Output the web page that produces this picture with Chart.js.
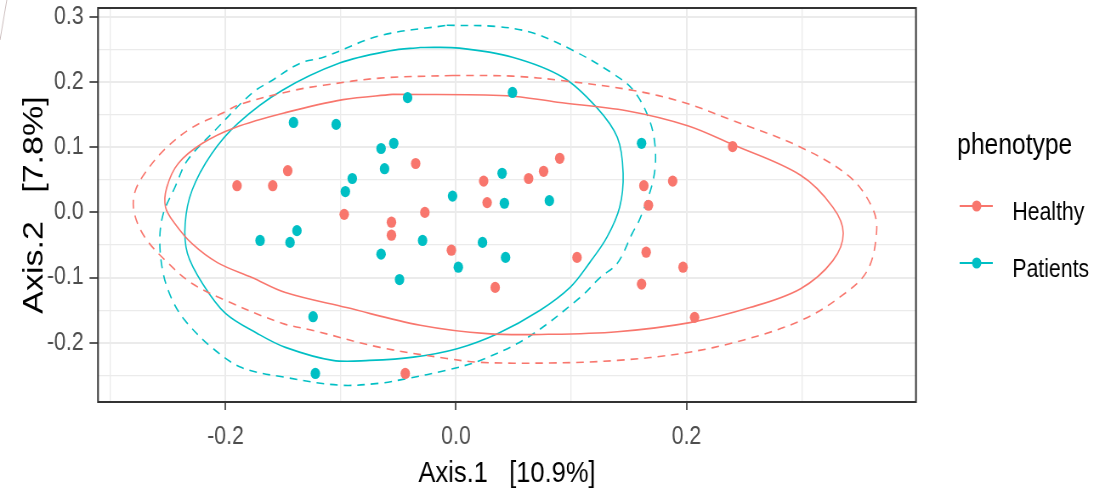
<!DOCTYPE html>
<html>
<head>
<meta charset="utf-8">
<script src="https://cdn.jsdelivr.net/npm/chart.js"></script>
<style>
  html, body { margin: 0; padding: 0; background: #fff; overflow: hidden; }
  /* the reference is squeezed horizontally, so draw wide and scale down */
  #wrap { position: absolute; left: 0; top: 0; width: 1291px; height: 497px; transform: scaleX(0.85); transform-origin: 0 0; }
</style>
</head>
<body>
<div id="wrap"><canvas id="pcoa"></canvas></div>
<script>
// PCoA ordination, Axis.1 vs Axis.2, coloured by phenotype

const healthyX = [-0.190, -0.159, -0.146, -0.097, -0.056, -0.056, -0.035, -0.027, -0.004, 0.024, 0.027, 0.034, 0.063,
  0.076, 0.090, 0.105, -0.044, 0.163, 0.167, 0.188, 0.240, 0.165, 0.161, 0.197, 0.207];
const healthyY = [0.041, 0.041, 0.064, -0.003, -0.015, -0.035, 0.075, 0.000, -0.058, 0.048, 0.015, -0.115, 0.052,
  0.063, 0.083, -0.069, -0.247, 0.041, 0.011, 0.048, 0.101, -0.061, -0.110, -0.084, -0.161];

const patientsX = [-0.141, -0.104, -0.042, 0.049, -0.065, -0.054, -0.062, -0.090, -0.096, -0.003, 0.040, 0.042, 0.081,
  -0.138, -0.144, -0.170, -0.029, 0.023, -0.065, 0.002, 0.043, -0.049, -0.124, -0.122, 0.161];
const patientsY = [0.138, 0.135, 0.176, 0.184, 0.098, 0.106, 0.067, 0.052, 0.032, 0.025, 0.060, 0.014, 0.018,
  -0.028, -0.046, -0.043, -0.043, -0.046, -0.064, -0.084, -0.069, -0.103, -0.160, -0.247, 0.106];

// ellipse outlines (solid and dashed for each group)
const healthySolid = [[-0.055, 0.181], [0.044, 0.179], [0.088, 0.169], [0.148, 0.156], [0.201, 0.133], [0.240, 0.104],
  [0.299, 0.057], [0.327, 0.008], [0.336, -0.032], [0.327, -0.074], [0.299, -0.117], [0.255, -0.146], [0.203, -0.169],
  [0.140, -0.183], [0.080, -0.187], [0.027, -0.186], [-0.031, -0.173], [-0.095, -0.146], [-0.148, -0.123],
  [-0.177, -0.100], [-0.207, -0.077], [-0.229, -0.048], [-0.244, -0.017], [-0.252, 0.008], [-0.251, 0.038],
  [-0.241, 0.075], [-0.220, 0.106], [-0.192, 0.130], [-0.148, 0.153], [-0.098, 0.173], [-0.055, 0.181]];
const healthyDashed = [[-0.003, 0.210], [0.049, 0.209], [0.093, 0.202], [0.154, 0.187], [0.197, 0.169], [0.240, 0.141],
  [0.299, 0.100], [0.342, 0.054], [0.361, 0.008], [0.365, -0.028], [0.357, -0.089], [0.333, -0.130], [0.299, -0.166],
  [0.249, -0.196], [0.197, -0.216], [0.140, -0.227], [0.080, -0.231], [0.021, -0.230], [-0.008, -0.224],
  [-0.066, -0.207], [-0.124, -0.181], [-0.151, -0.170], [-0.200, -0.135], [-0.229, -0.109], [-0.252, -0.074],
  [-0.270, -0.038], [-0.279, -0.002], [-0.279, 0.029], [-0.270, 0.060], [-0.252, 0.098], [-0.229, 0.130],
  [-0.203, 0.152], [-0.187, 0.166], [-0.141, 0.187], [-0.115, 0.195], [-0.066, 0.206], [-0.003, 0.210]];
const patientsSolid = [[-0.031, 0.253], [0.003, 0.252], [0.049, 0.238], [0.093, 0.207], [0.122, 0.161], [0.140, 0.115],
  [0.145, 0.060], [0.142, 0.008], [0.131, -0.038], [0.116, -0.077], [0.099, -0.115], [0.073, -0.150], [0.036, -0.186],
  [0.001, -0.209], [-0.037, -0.222], [-0.075, -0.227], [-0.107, -0.227], [-0.148, -0.207], [-0.172, -0.186],
  [-0.200, -0.155], [-0.220, -0.109], [-0.233, -0.063], [-0.235, -0.017], [-0.229, 0.034], [-0.212, 0.090],
  [-0.189, 0.137], [-0.151, 0.187], [-0.101, 0.229], [-0.057, 0.248], [-0.031, 0.253]];
const patientsDashed = [[-0.008, 0.287], [0.036, 0.285], [0.067, 0.275], [0.102, 0.248], [0.136, 0.213], [0.154, 0.187],
  [0.168, 0.141], [0.173, 0.095], [0.171, 0.049], [0.160, -0.008], [0.153, -0.032], [0.140, -0.078], [0.125, -0.100],
  [0.108, -0.130], [0.062, -0.192], [0.021, -0.227], [-0.008, -0.242], [-0.043, -0.255], [-0.066, -0.262],
  [-0.101, -0.265], [-0.148, -0.253], [-0.186, -0.238], [-0.212, -0.207], [-0.235, -0.166], [-0.246, -0.135],
  [-0.254, -0.094], [-0.257, -0.043], [-0.254, -0.002], [-0.244, 0.038], [-0.233, 0.080], [-0.209, 0.126],
  [-0.177, 0.183], [-0.160, 0.202], [-0.135, 0.229], [-0.115, 0.238], [-0.066, 0.271], [-0.008, 0.287]];

const xMajorTicks = [-0.2, 0.0, 0.2];
const xMinorTicks = [-0.3, -0.1, 0.1, 0.3];
const yMajorTicks = [-0.2, -0.1, 0.0, 0.1, 0.2, 0.3];
const yMinorTicks = [-0.25, -0.15, -0.05, 0.05, 0.15, 0.25];

const groups = ["Healthy", "Patients"];
const red = "#F8766D";
const teal = "#00BFC4";
const FONT = "'Liberation Sans', Arial, sans-serif";

const toXY = (xs, ys) => xs.map((x, i) => ({ x: x, y: ys[i] }));
const ring = (pts) => pts.map(p => ({ x: p[0], y: p[1] }));
const isMajor = (v, list) => list.some(m => Math.abs(m - v) < 1e-9);

function outline(label, pts, color, dashed) {
  return {
    label: label,
    data: ring(pts),
    showLine: true,
    borderColor: color,
    borderWidth: 1.6,
    borderDash: dashed ? [9, 7] : [],
    pointRadius: 0,
    pointHoverRadius: 0,
    tension: 0.35,
    fill: false,
    order: 2
  };
}

function setTicks(major, minor) {
  return function (scale) {
    scale.ticks = major.concat(minor).sort((a, b) => a - b).map(v => ({ value: v }));
  };
}

function fixSize(prop, size) {
  return function (scale) {
    scale[prop] = size;
    scale.paddingTop = 0;
    scale.paddingBottom = 0;
    scale.paddingLeft = 0;
    scale.paddingRight = 0;
  };
}

function gridStyle(major) {
  return {
    color: "#EBEBEB",
    lineWidth: ctx => (ctx.tick && isMajor(ctx.tick.value, major)) ? 2 : 1.3,
    tickColor: ctx => (ctx.tick && isMajor(ctx.tick.value, major)) ? "#333333" : "rgba(0,0,0,0)",
    tickWidth: 1.6
  };
}

const frame = {
  id: "frame",
  afterDraw(chart) {
    const ctx = chart.ctx;
    const a = chart.chartArea;
    ctx.save();
    // panel border
    ctx.strokeStyle = "#333333";
    ctx.lineWidth = 2;
    ctx.strokeRect(a.left, a.top, a.right - a.left, a.bottom - a.top);

    // axis titles
    ctx.fillStyle = "#000";
    ctx.font = "30px " + FONT;
    ctx.textAlign = "center";
    ctx.textBaseline = "alphabetic";
    ctx.fillText("Axis.1   [10.9%]", (a.left + a.right) / 2, 482);
    ctx.save();
    ctx.translate(50, (a.top + a.bottom) / 2);
    ctx.rotate(-Math.PI / 2);
    ctx.font = "34px " + FONT;
    ctx.fillText("Axis.2   [7.8%]", 0, 0);
    ctx.restore();

    // legend
    ctx.textAlign = "left";
    ctx.font = "29px " + FONT;
    ctx.fillText("phenotype", 1126, 154);
    const cols = [red, teal];
    const ys = [206, 263];
    ctx.font = "25px " + FONT;
    groups.forEach((g, i) => {
      ctx.strokeStyle = cols[i];
      ctx.lineWidth = 2;
      ctx.beginPath();
      ctx.moveTo(1129, ys[i]);
      ctx.lineTo(1168, ys[i]);
      ctx.stroke();
      ctx.fillStyle = cols[i];
      ctx.beginPath();
      ctx.arc(1149, ys[i], 5.5, 0, Math.PI * 2);
      ctx.fill();
      ctx.fillStyle = "#000";
      ctx.fillText(g, 1191, ys[i] + 14);
    });

    // faint slide edge in the top-left corner
    ctx.strokeStyle = "#cbbcbc";
    ctx.lineWidth = 1;
    ctx.beginPath();
    ctx.moveTo(8, 0);
    ctx.lineTo(0, 40);
    ctx.stroke();
    ctx.restore();
  }
};

const chart = new Chart(document.getElementById("pcoa").getContext("2d"), {
  type: "scatter",
  data: {
    datasets: [
      { label: groups[0], data: toXY(healthyX, healthyY), backgroundColor: red, borderWidth: 0, pointRadius: 5.6, order: 1 },
      { label: groups[1], data: toXY(patientsX, patientsY), backgroundColor: teal, borderWidth: 0, pointRadius: 5.6, order: 1 },
      outline("Healthy ellipse", healthySolid, red, false),
      outline("Healthy ellipse dashed", healthyDashed, red, true),
      outline("Patients ellipse", patientsSolid, teal, false),
      outline("Patients ellipse dashed", patientsDashed, teal, true)
    ]
  },
  options: {
    responsive: true,
    maintainAspectRatio: false,
    animation: false,
    layout: { padding: { left: 0, top: 8, right: 213.4, bottom: 0 } },
    plugins: { legend: { display: false }, tooltip: { enabled: false } },
    scales: {
      x: {
        type: "linear",
        min: -0.3106,
        max: 0.3991,
        afterBuildTicks: setTicks(xMajorTicks, xMinorTicks),
        afterFit: fixSize("height", 95),
        grid: Object.assign(gridStyle(xMajorTicks), { tickLength: 8 }),
        border: { display: false },
        ticks: {
          autoSkip: false,
          maxRotation: 0,
          padding: 12,
          color: "#4D4D4D",
          font: { family: FONT, size: 25 },
          callback: v => isMajor(v, xMajorTicks) ? v.toFixed(1) : ""
        }
      },
      y: {
        type: "linear",
        min: -0.2908,
        max: 0.3135,
        afterBuildTicks: setTicks(yMajorTicks, yMinorTicks),
        afterFit: fixSize("width", 115.3),
        grid: Object.assign(gridStyle(yMajorTicks), { tickLength: 10 }),
        border: { display: false },
        ticks: {
          autoSkip: false,
          padding: 7,
          color: "#4D4D4D",
          font: { family: FONT, size: 25 },
          callback: v => isMajor(v, yMajorTicks) ? v.toFixed(1) : ""
        }
      }
    }
  },
  plugins: [frame]
});
</script>
</body>
</html>
